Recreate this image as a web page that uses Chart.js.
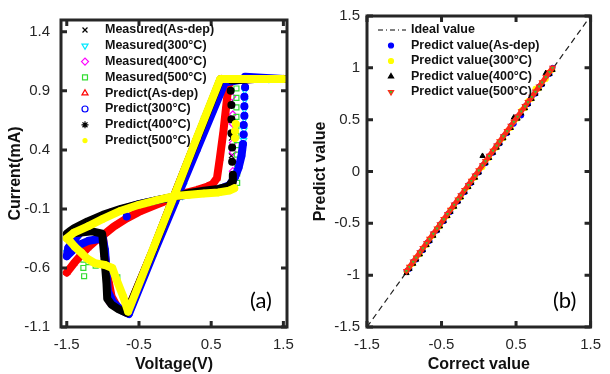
<!DOCTYPE html>
<html>
<head>
<meta charset="utf-8">
<script src="https://cdn.jsdelivr.net/npm/chart.js@4.4.0/dist/chart.umd.min.js"></script>
<style>
  html, body { margin: 0; padding: 0; background: #fff; }
  #wrap { position: relative; width: 610px; height: 374px; overflow: hidden; }
  .pane { position: absolute; top: 0; width: 305px; height: 374px; }
  #pa { left: 0; }
  #pb { left: 305px; }
  .tag { position: absolute; font-family: Lato, "Open Sans", sans-serif; font-size: 22px; line-height: 26px; color: #000; }
</style>
</head>
<body>
<div id="wrap">
  <div class="pane" id="pa"><canvas id="chA" width="305" height="374"></canvas></div>
  <div class="pane" id="pb"><canvas id="chB" width="305" height="374"></canvas></div>
  <div class="tag" style="left:250px;top:287px">(a)</div>
  <div class="tag" style="left:553px;top:287px">(b)</div>
</div>
<script>
(function () {
  const FONT = '"Liberation Sans", Arial, sans-serif';
  const tickColor = "#262626";

  // ---- panel (a): I-V loops, [voltage, current] ----
  const voltTicks = [-1.5, -0.5, 0.5, 1.5];
  const currTicks = [-1.1, -0.6, -0.1, 0.4, 0.9, 1.4];
  const seriesA = ["Measured(As-dep)", "Measured(300°C)", "Measured(400°C)", "Measured(500°C)",
    "Predict(As-dep)", "Predict(300°C)", "Predict(400°C)", "Predict(500°C)"];

  const measAsDep = [[0.05, 0.01], [0.35, 0.07], [0.55, 0.13], [0.6, 0.25], [0.64, 0.42], [0.69, 0.66], [0.73, 0.88],
    [0.78, 0.35], [0.78, 0.5], [0.77, 0.65], [0.77, 0.8], [1.2, 1.0], [0.2, 0.35], [-0.2, -0.3], [-0.5, -0.74],
    [-0.85, -0.9], [-0.96, -0.6], [-1.3, -0.49], [-1.45, -0.6], [-0.8, -0.23], [-0.4, -0.1]];
  const meas300 = [[0.1, 0.01], [0.5, 0.06], [0.85, 0.2], [0.93, 0.38], [0.95, 0.48], [0.955, 0.57], [0.96, 0.66],
    [0.96, 0.74], [0.965, 0.82], [0.965, 0.9], [0.97, 0.97], [1.3, 1.0], [0.52, 0.7], [0.12, 0.1], [-0.3, -0.49],
    [-0.6, -0.94], [-0.94, -0.7], [-1.5, -0.47], [-1.0, -0.16], [-0.4, -0.05]];
  const meas400 = [[0.1, 0.02], [0.5, 0.06], [0.8, 0.22], [0.8, 0.3], [0.8, 0.38], [0.8, 0.46], [0.8, 0.54],
    [0.8, 0.62], [0.8, 0.7], [0.79, 0.85], [1.0, 1.0], [0.2, 0.33], [-0.4, -0.6], [-0.9, -0.9], [-0.98, -0.5],
    [-1.45, -0.3], [-0.9, -0.13], [-0.3, -0.04]];
  const meas500 = [[0.2, 0.02], [0.6, 0.04], [0.86, 0.12], [0.86, 0.2], [0.86, 0.28], [0.855, 0.36], [0.855, 0.44],
    [0.85, 0.52], [0.85, 0.6], [0.85, 0.68], [0.85, 0.76], [0.85, 0.84], [0.85, 0.92], [1.4, 1.0], [0.4, 0.66],
    [-0.2, -0.28], [-0.6, -0.9], [-0.8, -0.68], [-1.0, -0.57], [-1.1, -0.58], [-1.2, -0.55], [-1.27, -0.45],
    [-1.27, -0.53], [-1.27, -0.6], [-1.26, -0.67], [-1.33, -0.43], [-1.45, -0.36], [-1.0, -0.18], [-0.5, -0.06]];

  // predicted loops, split into strokes (single points = sparse markers in the switching jumps)
  const predAsDep = [
    [[0, 0], [0.15, 0.035], [0.3, 0.06], [0.45, 0.09], [0.52, 0.11], [0.58, 0.16], [0.62, 0.33], [0.67, 0.56],
      [0.71, 0.78], [0.74, 0.95], [0.8, 0.995], [1.1, 1.0], [1.5, 1.0], [0.64, 1.0], [0.3, 0.49], [0, 0.03],
      [-0.3, -0.44], [-0.67, -0.98], [-0.8, -0.93], [-0.88, -0.84], [-0.93, -0.68], [-0.97, -0.5], [-1.0, -0.33]],
    [[-1.5, -0.64], [-1.4, -0.56], [-1.3, -0.49], [-1.21, -0.43], [-1.1, -0.37], [-0.97, -0.31], [-0.85, -0.25],
      [-0.67, -0.18], [-0.5, -0.125], [-0.28, -0.07], [-0.14, -0.035], [0, 0]]
  ];
  const pred300 = [
    [[0, 0], [0.2, 0.025], [0.4, 0.045], [0.6, 0.065], [0.75, 0.1], [0.83, 0.17], [0.88, 0.25], [0.92, 0.35], [0.94, 0.45]],
    [[0.95, 0.53]], [[0.95, 0.61]], [[0.96, 0.69]], [[0.96, 0.77]], [[0.96, 0.85]], [[0.97, 0.93]],
    [[0.97, 1.02], [1.2, 1.01], [1.5, 1.0], [0.97, 1.0], [0.69, 0.97], [0.3, 0.4], [0, -0.04], [-0.3, -0.48],
      [-0.64, -0.99], [-0.74, -0.96], [-0.86, -0.89], [-0.93, -0.8], [-0.95, -0.62], [-0.97, -0.45], [-1.0, -0.35],
      [-1.2, -0.37], [-1.35, -0.41], [-1.5, -0.5], [-1.48, -0.43], [-1.42, -0.38], [-1.3, -0.29], [-1.2, -0.225],
      [-1.0, -0.16], [-0.75, -0.105], [-0.5, -0.06], [-0.25, -0.025], [0, 0]],
    [[-0.67, -0.165]]
  ];
  const pred400 = [
    [[0, 0.005], [0.2, 0.035], [0.4, 0.055], [0.6, 0.07], [0.74, 0.09], [0.79, 0.13], [0.8, 0.19]],
    [[0.79, 0.3]], [[0.79, 0.42]], [[0.78, 0.54]], [[0.78, 0.66]], [[0.78, 0.78]], [[0.77, 0.9]],
    [[0.78, 0.99], [1.1, 1.0], [1.5, 1.0], [0.63, 1.0], [0.3, 0.49], [0, 0.03], [-0.3, -0.44], [-0.67, -0.98],
      [-0.78, -0.95], [-0.88, -0.91], [-0.94, -0.86], [-0.95, -0.73], [-0.97, -0.58], [-0.99, -0.44], [-1.01, -0.31],
      [-1.15, -0.29], [-1.3, -0.3], [-1.5, -0.31], [-1.46, -0.29], [-1.4, -0.265], [-1.21, -0.205], [-1.0, -0.15],
      [-0.75, -0.1], [-0.5, -0.06], [-0.25, -0.025], [0, 0.005]]
  ];
  const pred500 = [
    [[0, 0.01], [0.2, 0.02], [0.4, 0.03], [0.6, 0.04], [0.75, 0.055], [0.82, 0.075]],
    [[0.83, 0.5]], [[0.83, 0.56]], [[0.84, 0.62]],
    [[0.86, 1.0], [1.1, 1.0], [1.5, 1.0], [0.625, 1.0], [0.3, 0.5], [0, 0.03], [-0.3, -0.43], [-0.65, -0.97],
      [-0.72, -0.84], [-0.81, -0.7], [-0.87, -0.6], [-0.97, -0.575], [-1.11, -0.56], [-1.22, -0.52], [-1.3, -0.47],
      [-1.39, -0.42], [-1.46, -0.37], [-1.5, -0.35], [-1.4, -0.3], [-1.2, -0.245], [-1.0, -0.185], [-0.75, -0.115],
      [-0.5, -0.065], [-0.25, -0.025], [0, 0.01]]
  ];

  // ---- panel (b): predicted vs correct ----
  const axisTicksB = [-1.5, -0.5, 0.5, 1.5];
  const predTicksB = [-1.5, -1, -0.5, 0, 0.5, 1, 1.5];
  const seriesB = ["Ideal value", "Predict value(As-dep)", "Predict value(300°C)", "Predict value(400°C)", "Predict value(500°C)"];
  const idealLine = [[-1.5, -1.5], [1.5, 1.5]];
  const correctVals = [-0.97, -0.93, -0.88, -0.84, -0.79, -0.75, -0.70, -0.66, -0.61, -0.56, -0.52, -0.47, -0.42, -0.38,
    -0.33, -0.28, -0.24, -0.19, -0.14, -0.10, -0.05, 0.00, 0.05, 0.09, 0.14, 0.19, 0.24, 0.28, 0.33, 0.38, 0.43, 0.47,
    0.52, 0.57, 0.62, 0.66, 0.71, 0.76, 0.81, 0.85, 0.90, 0.95, 0.99];
  const predBAsDep = [-0.96, -0.94, -0.87, -0.85, -0.78, -0.76, -0.69, -0.67, -0.60, -0.57, -0.51, -0.48, -0.41, -0.39,
    -0.32, -0.29, -0.23, -0.20, -0.13, -0.11, -0.04, -0.01, 0.06, 0.08, 0.15, 0.18, 0.25, 0.27, 0.34, 0.37, 0.44, 0.46,
    0.53, 0.54, 0.63, 0.65, 0.72, 0.75, 0.82, 0.84, 0.91, 0.94, 1.00];
  const predB300 = [-0.97, -0.92, -0.89, -0.83, -0.80, -0.74, -0.71, -0.65, -0.62, -0.55, -0.53, -0.46, -0.43, -0.37,
    -0.34, -0.27, -0.25, -0.18, -0.15, -0.09, -0.06, 0.01, 0.04, 0.10, 0.13, 0.20, 0.23, 0.29, 0.32, 0.39, 0.42, 0.48,
    0.51, 0.59, 0.61, 0.68, 0.70, 0.80, 0.80, 0.86, 0.89, 0.96, 0.98];
  const predB400 = [-0.98, -0.94, -0.89, -0.85, -0.80, -0.76, -0.71, -0.67, -0.62, -0.57, -0.53, -0.48, -0.43, -0.39,
    -0.34, -0.29, -0.25, -0.20, -0.15, -0.11, -0.06, -0.01, 0.15, 0.08, 0.13, 0.18, 0.23, 0.27, 0.32, 0.37, 0.42, 0.52,
    0.51, 0.56, 0.61, 0.65, 0.70, 0.75, 0.80, 0.84, 0.95, 0.94, 0.98];
  const predB500 = [-0.96, -0.92, -0.87, -0.83, -0.78, -0.74, -0.69, -0.65, -0.60, -0.55, -0.51, -0.46, -0.41, -0.37,
    -0.32, -0.27, -0.23, -0.18, -0.13, -0.09, -0.04, 0.01, 0.06, 0.10, 0.15, 0.20, 0.25, 0.29, 0.34, 0.39, 0.44, 0.48,
    0.53, 0.58, 0.63, 0.67, 0.72, 0.77, 0.82, 0.86, 0.91, 0.96, 1.00];

  const pts = (arr) => arr.map((p) => ({ x: p[0], y: p[1] }));
  const zipXY = (xs, ys) => xs.map((x, i) => ({ x, y: ys[i] }));
  function strokes(list) {
    const out = [];
    list.forEach((s, i) => {
      if (i > 0) out.push({ x: s[0][0], y: null });
      s.forEach((p) => out.push({ x: p[0], y: p[1] }));
    });
    return out;
  }

  // markers: [pointStyle, color, rotation, fill, radius]
  const markA = [
    ["crossRot", "#000000", 0, false, 3.5],
    ["triangle", "#00e8ff", 180, false, 3.5],
    ["rectRot", "#ff00ff", 0, false, 3.5],
    ["rect", "#33dd33", 0, false, 3.5],
    ["triangle", "#ff0000", 0, false, 3.5],
    ["circle", "#0000ff", 0, false, 3],
    ["star", "#000000", 0, false, 3.5],
    ["circle", "#ffff00", 0, true, 2]
  ];
  const markB = [
    null,
    ["circle", "#0000ff", 0, "#0000ff", 2.5],
    ["circle", "#ffff00", 0, "#ffff00", 2.5],
    ["triangle", "#000000", 0, "#000000", 3],
    ["triangle", "#ff2a1a", 180, "#3fbf2f", 3]
  ];

  function measSet(i, data) {
    const m = markA[i];
    return {
      label: seriesA[i], data: pts(data), showLine: false, order: 8 - i,
      pointStyle: m[0], pointRotation: m[2], pointRadius: m[4], pointBorderColor: m[1],
      pointBackgroundColor: "rgba(0,0,0,0)", pointBorderWidth: 1.2
    };
  }
  function predSet(i, list) {
    const m = markA[i];
    return {
      label: seriesA[i], data: strokes(list), showLine: true, order: 8 - i,
      borderColor: m[1], borderWidth: 8, borderJoinStyle: "round", borderCapStyle: "round",
      pointStyle: m[0], pointRotation: m[2], pointRadius: 3, pointBorderColor: m[1],
      pointBackgroundColor: m[1], pointBorderWidth: 1.5
    };
  }

  const frame = {
    id: "frame",
    afterDraw(chart, args, o) {
      const { ctx, chartArea: a, scales } = chart;
      ctx.save();
      ctx.strokeStyle = "#262626";
      ctx.lineWidth = 3;
      ctx.strokeRect(a.left, a.top, a.right - a.left, a.bottom - a.top);
      const L = 6;
      ctx.beginPath();
      scales.x.ticks.forEach((t) => {
        const px = scales.x.getPixelForValue(t.value);
        ctx.moveTo(px, a.bottom); ctx.lineTo(px, a.bottom - L);
        ctx.moveTo(px, a.top); ctx.lineTo(px, a.top + L);
      });
      scales.y.ticks.forEach((t) => {
        const py = scales.y.getPixelForValue(t.value);
        ctx.moveTo(a.left, py); ctx.lineTo(a.left + L, py);
        ctx.moveTo(a.right, py); ctx.lineTo(a.right - L, py);
      });
      ctx.stroke();

      // legend, inside the axes, no box
      ctx.font = "bold 12.5px " + FONT;
      ctx.textBaseline = "middle";
      o.items.forEach((it, k) => {
        const y = o.y0 + k * o.dy;
        if (it.mark) {
          const m = it.mark;
          ctx.strokeStyle = m[1];
          ctx.fillStyle = m[3] === true ? m[1] : (m[3] || "rgba(0,0,0,0)");
          ctx.lineWidth = 1.2;
          Chart.helpers.drawPoint(ctx, { pointStyle: m[0], rotation: m[2], radius: m[4], borderWidth: 1.2 }, o.mx, y);
        } else {
          ctx.strokeStyle = "#000";
          ctx.lineWidth = 1;
          ctx.setLineDash([5, 3, 1, 3]);
          ctx.beginPath(); ctx.moveTo(o.mx - 13, y); ctx.lineTo(o.mx + 15, y); ctx.stroke();
          ctx.setLineDash([]);
        }
        ctx.fillStyle = "#111";
        ctx.fillText(it.text, o.tx, y);
      });
      ctx.restore();
    }
  };

  function axes(xTicks, yTicks, xr, yr, xTitle, yTitle, yWidth, yPad) {
    const tickFont = { family: FONT, size: 15 };
    const titleFont = { family: FONT, size: 16, weight: "bold" };
    return {
      x: {
        type: "linear", min: xr[0], max: xr[1],
        afterBuildTicks: (s) => { s.ticks = xTicks.map((v) => ({ value: v })); },
        afterFit: (s) => { s.height = 47; },
        grid: { display: false, drawTicks: false }, border: { display: false },
        ticks: { font: tickFont, color: tickColor, padding: 9, autoSkip: false, maxRotation: 0, callback: (v) => String(v) },
        title: { display: true, text: xTitle, font: titleFont, color: "#111", padding: { top: 0, bottom: 0 } }
      },
      y: {
        type: "linear", min: yr[0], max: yr[1],
        afterBuildTicks: (s) => { s.ticks = yTicks.map((v) => ({ value: v })); },
        afterFit: (s) => { s.width = yWidth; },
        grid: { display: false, drawTicks: false }, border: { display: false },
        ticks: { font: tickFont, color: tickColor, padding: yPad, autoSkip: false, callback: (v) => String(v) },
        title: { display: true, text: yTitle, font: titleFont, color: "#111", padding: { top: 6, bottom: 0 } }
      }
    };
  }

  new Chart(document.getElementById("chA"), {
    type: "scatter",
    data: {
      datasets: [
        measSet(0, measAsDep), measSet(1, meas300), measSet(2, meas400), measSet(3, meas500),
        predSet(4, predAsDep), predSet(5, pred300), predSet(6, pred400), predSet(7, pred500)
      ]
    },
    options: {
      responsive: false, animation: false, events: [],
      layout: { padding: { top: 13, right: 18, bottom: 0, left: 0 } },
      plugins: {
        legend: { display: false }, tooltip: { enabled: false },
        frame: { items: seriesA.map((t, i) => ({ text: t, mark: markA[i] })), y0: 30, dy: 15.8, mx: 85, tx: 105 }
      },
      scales: axes(voltTicks, currTicks, [-1.58, 1.55], [-1.1, 1.5], "Voltage(V)", "Current(mA)", 61, 11)
    },
    plugins: [frame]
  });

  new Chart(document.getElementById("chB"), {
    type: "scatter",
    data: {
      datasets: [
        { label: seriesB[0], data: pts(idealLine), showLine: true, order: 5, borderColor: "#222", borderWidth: 1.2,
          borderDash: [6, 4], pointRadius: 0 },
        ...[predBAsDep, predB300, predB400, predB500].map((ys, k) => {
          const m = markB[k + 1];
          const last = k === 3;
          return {
            label: seriesB[k + 1], data: zipXY(correctVals, ys), order: 4 - k,
            showLine: last, borderColor: "#ff2a1a", borderWidth: 5, borderJoinStyle: "round", borderCapStyle: "round",
            pointStyle: m[0], pointRotation: m[2], pointRadius: m[4], pointBorderColor: m[1],
            pointBackgroundColor: m[3], pointBorderWidth: last ? 1.2 : 1
          };
        })
      ]
    },
    options: {
      responsive: false, animation: false, events: [],
      layout: { padding: { top: 14, right: 12, bottom: 0, left: 0 } },
      plugins: {
        legend: { display: false }, tooltip: { enabled: false },
        frame: { items: seriesB.map((t, i) => ({ text: t, mark: markB[i] })), y0: 30, dy: 15.5, mx: 86, tx: 106 }
      },
      scales: axes(axisTicksB, predTicksB, [-1.5, 1.5], [-1.5, 1.5], "Correct value", "Predict value", 62, 7)
    },
    plugins: [frame]
  });
})();
</script>
</body>
</html>
